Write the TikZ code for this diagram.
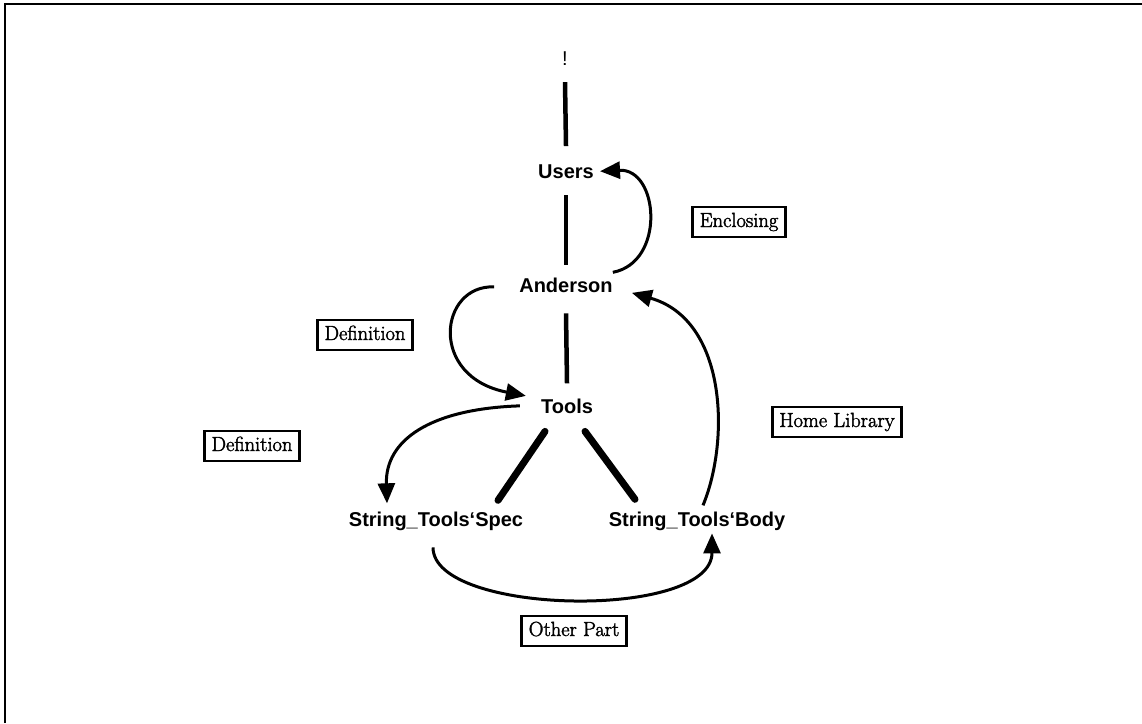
\documentclass[tikz,border=0pt]{standalone}
\usepackage{fontspec}
\newfontfamily\helv{Liberation Sans}
\newfontfamily\lblfont{Latin Modern Roman}[FakeBold=2]
\usetikzlibrary{arrows.meta}
\begin{document}
\begin{tikzpicture}[x=1pt,y=-1pt,
  term/.style={font=\helv\bfseries\fontsize{20}{24}\selectfont, inner sep=0pt, anchor=base},
  lbl/.style={draw, line width=2.5pt, font=\lblfont\fontsize{20.5}{24}\selectfont, inner xsep=7pt, inner ysep=6pt, text height=14pt, text depth=4pt},
  vline/.style={line width=4.5pt},
  dline/.style={line width=7pt, line cap=round},
  arr/.style={line width=3pt, -{Triangle[length=20pt,width=17pt]}}]
\useasboundingbox (0,0) rectangle (1142,723);
\draw[line width=2pt] (5,723) -- (5,4) -- (1142,4);

% terms
\node[term, font=\helv\fontsize{20}{24}\selectfont] (bang) at (565,65) {!};
\node[term] (users) at (566,178) {Users};
\node[term] (anderson) at (566,292) {Anderson};
\node[term] (tools) at (567,413) {Tools};
\node[term] (spec) at (436,526) {String\_Tools‘Spec};
\node[term] (body) at (697,526) {String\_Tools‘Body};

% labels
\node[lbl] (enc) at (739,222) {Enclosing};
\node[lbl] (def1) at (365,335) {Definition};
\node[lbl] (def2) at (252,446) {Definition};
\node[lbl] (home) at (837,422) {Home Library};
\node[lbl] (other) at (574,631) {Other Part};

% tree lines
\draw[vline] ([yshift=-17pt]bang.south) -- ([yshift=18pt]users.north);
\draw[vline] ([yshift=-17pt]users.south) -- ([yshift=12pt]anderson.north);
\draw[vline] ([yshift=-21pt]anderson.south) -- ([yshift=15pt]tools.north);
\draw[dline] ([shift={(-22pt,-18pt)}]tools.south) -- ([shift={(62pt,11pt)}]spec.north);
\draw[dline] ([shift={(18pt,-18pt)}]tools.south) -- ([shift={(-62pt,12pt)}]body.north);

% arrows
\draw[arr] ([yshift=5pt]anderson.north east) .. controls +(53,-10) and +(59,-3) .. ([xshift=6pt]users.east);
\draw[arr] ([shift={(-25pt,-2pt)}]anderson.west) .. controls +(-55,-2) and +(-98,-19) .. ([shift={(-15pt,10pt)}]tools.west);
\draw[arr] ([xshift=-21pt]tools.west) .. controls +(-90,3) and +(-2,-63) .. ([shift={(-49pt,8pt)}]spec.north);
\draw[arr] ([shift={(6pt,6pt)}]body.north) .. controls +(27,-65) and +(95,27) .. ([shift={(19pt,-8pt)}]anderson.east);
\draw[arr] ([shift={(-3pt,-17pt)}]spec.south) .. controls +(0,68) and +(0,87) .. ([shift={(15pt,-3pt)}]body.south);
\end{tikzpicture}
\end{document}
